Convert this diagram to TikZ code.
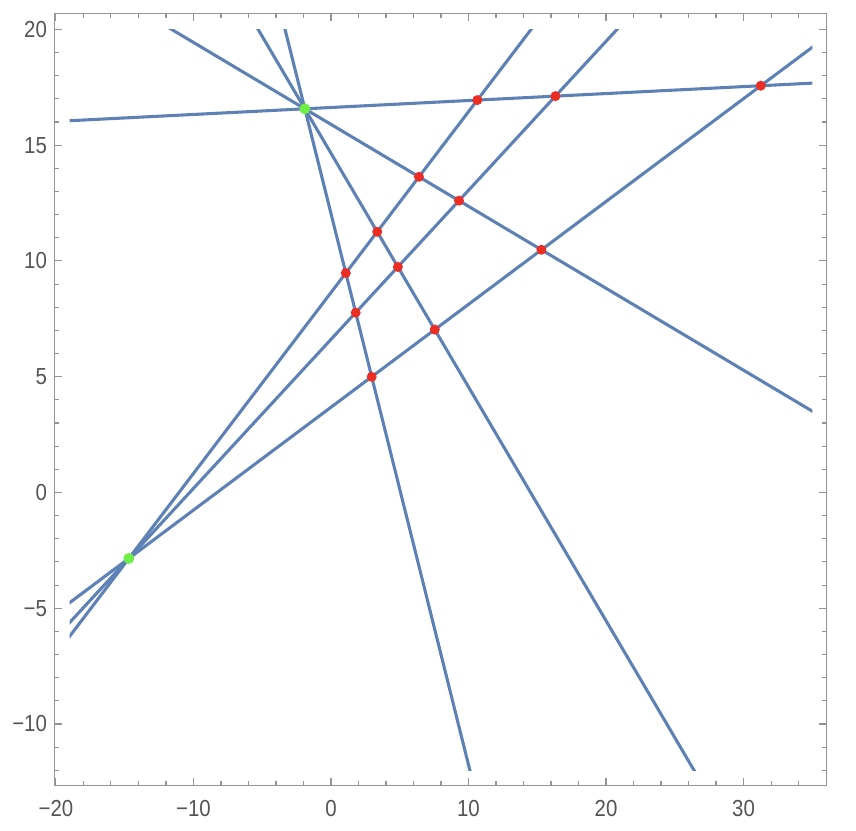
\documentclass[tikz,border=0pt]{standalone}
\usepackage{fontspec}
\setmainfont{Liberation Sans}
\usetikzlibrary{calc,intersections}
\definecolor{plotblue}{rgb}{0.368,0.507,0.710}
\definecolor{ptred}{RGB}{236,45,35}
\definecolor{ptgreen}{RGB}{110,238,70}
\definecolor{framegray}{gray}{0.58}
\definecolor{labelgray}{gray}{0.33}
\newcommand{\tlab}[1]{\scalebox{0.88}[1]{#1}}
\begin{document}
\begin{tikzpicture}[x=0.275cm,y=0.463cm,
  plotline/.style={plotblue,line width=1.75pt},
  framebox/.style={framegray,line width=0.6pt},
  tickmark/.style={framegray,line width=0.6pt},
  ticklabel/.style={labelgray,inner sep=0pt,font=\fontsize{13.2}{14}\selectfont},
  reddot/.style={fill=ptred,draw=none},
  greendot/.style={fill=ptgreen,draw=none}]
\useasboundingbox (-24.07,-14.59) rectangle (38.18,21.27);
\def\xl{-20.12}\def\xr{36.05}\def\yb{-12.66}\def\yt{20.69}
% frame
\draw[framebox] (\xl,\yb) rectangle (\xr,\yt);
% x ticks
\foreach \x/\t in {-20/{−20},-10/{−10},0/0,10/10,20/20,30/30}{
  \draw[tickmark] (\x,\yb) -- ++(0pt,0.16cm);
  \draw[tickmark] (\x,\yt) -- ++(0pt,-0.16cm);
  \node[ticklabel,anchor=base] at (\x,-14.01) {\tlab{\t}};
}
\foreach \x in {-18,-16,-14,-12,-8,-6,-4,-2,2,4,6,8,12,14,16,18,22,24,26,28,32,34,36}{
  \draw[tickmark] (\x,\yb) -- ++(0pt,0.09cm);
  \draw[tickmark] (\x,\yt) -- ++(0pt,-0.09cm);
}
% y ticks
\foreach \y/\t in {-10/{−10},-5/{−5},0/0,5/5,10/10,15/15,20/20}{
  \draw[tickmark] (\xl,\y) -- ++(0.16cm,0pt);
  \draw[tickmark] (\xr,\y) -- ++(-0.16cm,0pt);
  \node[ticklabel,anchor=east] at (-20.63,\y) {\tlab{\t}};
}
\foreach \y in {-12,-11,-9,-8,-7,-6,-4,-3,-2,-1,1,2,3,4,6,7,8,9,11,12,13,14,16,17,18,19}{
  \draw[tickmark] (\xl,\y) -- ++(0.09cm,0pt);
  \draw[tickmark] (\xr,\y) -- ++(-0.09cm,0pt);
}
% line definitions
\coordinate (P1) at (-1.9,16.57);
\coordinate (P2) at (-14.7,-2.85);
\coordinate (Ah) at (35,17.68);
\coordinate (Av) at (35,3.51);
\coordinate (Aw) at (26.4,-12);
\coordinate (Az) at (10.1,-12);
\coordinate (Ba) at (14.55,20);
\coordinate (Bb) at (20.8,20);
\coordinate (Bc) at (35,19.23);
\foreach \a in {Ah,Av,Aw,Az}
  \path[name path global=L\a] ($(P1)!-3!(\a)$) -- ($(P1)!3!(\a)$);
\foreach \b in {Ba,Bb,Bc}
  \path[name path global=L\b] ($(P2)!-3!(\b)$) -- ($(P2)!3!(\b)$);
\begin{scope}
  \clip (-19,-12) rectangle (35,20);
  \foreach \a in {Ah,Av,Aw,Az}
    \draw[plotline] ($(P1)!-3!(\a)$) -- ($(P1)!3!(\a)$);
  \foreach \b in {Ba,Bb,Bc}
    \draw[plotline] ($(P2)!-3!(\b)$) -- ($(P2)!3!(\b)$);
\end{scope}
% intersection points
\foreach \a in {Ah,Av,Aw,Az}{
  \foreach \b in {Ba,Bb,Bc}{
    \path[name intersections={of={L\a} and {L\b},name=X}];
    \fill[reddot] (X-1) circle[radius=0.1cm];
  }
}
\fill[greendot] (P1) circle[radius=0.11cm];
\fill[greendot] (P2) circle[radius=0.11cm];
\end{tikzpicture}
\end{document}
